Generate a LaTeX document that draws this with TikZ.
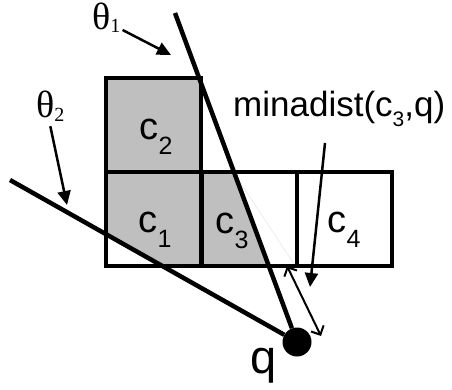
\documentclass[tikz,border=0pt]{standalone}
\usepackage{fontspec}
\setmainfont{Liberation Sans}
\newfontfamily\greekfont{Liberation Serif}
\usetikzlibrary{arrows.meta}
% lowered index: size, drop, text
\newcommand{\lowsub}[3]{\raisebox{-#2}{\fontsize{#1}{#1}\selectfont #3}}

\begin{document}
\begin{tikzpicture}[x=1pt,y=-1pt,
    cellbox/.style={draw,line width=4.5pt,minimum width=95pt,minimum height=94pt,
                    inner sep=0pt},
    cname/.style={anchor=base,inner sep=0pt,font=\fontsize{38}{38}\selectfont},
    theta/.style={anchor=base west,inner sep=0pt,
                  font=\greekfont\fontsize{38}{38}\selectfont},
    ray/.style={line width=4.5pt},
    pointer/.style={line width=2.5pt,-{Triangle[length=14pt,width=13pt]}}]
  \useasboundingbox (0,0) rectangle (452,390);
  % gris: parte de las celdas entre los dos rayos
  \begin{scope}
    \clip (170,0) -- (319,400) -- (0,400) -- (0,0) -- cycle;
    \clip (0,174.4) -- (452,429.4) -- (452,0) -- (0,0) -- cycle;
    \fill[black!25] (106,78) rectangle (201,172);
    \fill[black!25] (106,172) rectangle (297,266);
  \end{scope}
  \draw[black!12,line width=0.4pt] (236,176) -- (294,264);
  % celdas
  \node[cellbox] (c2) at (153.5,125) {};
  \node[cellbox] (c1) at (153.5,219) {};
  \node[cellbox] (c3) at (249.5,219) {};
  \node[cellbox] (c4) at (344.5,219) {};
  \node[cname] (l2) at (156,140) {c\lowsub{25}{15pt}{2}};
  \node[cname] (l1) at (155,232) {c\lowsub{25}{15pt}{1}};
  \node[cname] (l3) at (232,233) {c\lowsub{25}{15pt}{3}};
  \node[cname] (l4) at (344,232) {c\lowsub{25}{15pt}{4}};
  % punto de consulta
  \node[circle,fill,inner sep=0pt,minimum size=29pt] (q) at (297,342) {};
  \node[anchor=base,inner sep=0pt,font=\fontsize{47}{47}\selectfont] (ql) at (264,373) {q};
  % rayos
  \coordinate (t1) at (175,13);
  \coordinate (t2) at (10,180);
  \draw[ray] (t1) -- (q);
  \draw[ray] (t2) -- (q);
  % etiquetas de los ángulos
  \node[theta] (th1) at (92,30) {θ\lowsub{20}{3pt}{1}};
  \node[theta] (th2) at (36,118) {θ\lowsub{20}{4pt}{2}};
  \coordinate (a1) at (171,55);
  \coordinate (a2) at (67,205);
  \draw[pointer] ([xshift=2pt]th1.base east) -- (a1);
  \draw[pointer] ([yshift=-4pt]th2.south) -- (a2);
  % distancia mínima
  \node[anchor=base west,inner sep=0pt,font=\fontsize{35}{35}\selectfont] (md)
    at (233,117) {minadist(c\lowsub{21}{10pt}{3},q)};
  \coordinate (ms) at (325,143);
  \coordinate (mt) at (310,287);
  \draw[pointer] (ms) -- (mt);
  \coordinate (m1) at (287,266);
  \coordinate (m2) at (321,336);
  \draw[line width=2pt,{Straight Barb[length=7pt,width=14pt]}-{Straight Barb[length=7pt,width=14pt]}]
    (m1) -- (m2);
\end{tikzpicture}
\end{document}
